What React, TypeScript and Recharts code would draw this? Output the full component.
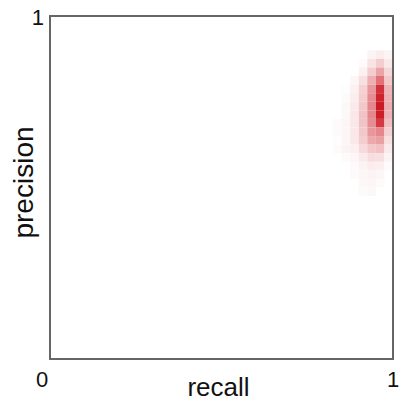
import { ScatterChart, Scatter, XAxis, YAxis, ReferenceArea, Label } from 'recharts';

// bin edges of the 2D histogram (only the non-empty part of the 40x40 grid)
const recallEdges = [0.825, 0.85, 0.875, 0.9, 0.925, 0.95, 0.975, 1];
const precisionEdges = [
  0.9, 0.875, 0.85, 0.825, 0.8, 0.775, 0.75, 0.725, 0.7, 0.675, 0.65, 0.625, 0.6,
  0.575, 0.55, 0.525, 0.5, 0.475,
];

// relative density, one row per precision bin (top to bottom), one value per recall bin
const density = [
  [0, 0, 0, 0, 0.05, 0.08, 0.05],
  [0, 0, 0, 0.02, 0.12, 0.22, 0.1],
  [0, 0, 0, 0.06, 0.22, 0.4, 0.18],
  [0, 0, 0.04, 0.14, 0.35, 0.62, 0.24],
  [0, 0.01, 0.06, 0.2, 0.45, 0.9, 0.32],
  [0, 0.02, 0.08, 0.22, 0.5, 0.96, 0.34],
  [0, 0.03, 0.09, 0.24, 0.52, 1.0, 0.36],
  [0, 0.03, 0.1, 0.26, 0.52, 0.98, 0.34],
  [0.02, 0.04, 0.1, 0.26, 0.5, 0.86, 0.28],
  [0.02, 0.04, 0.1, 0.24, 0.45, 0.52, 0.2],
  [0.01, 0.04, 0.1, 0.22, 0.38, 0.42, 0.14],
  [0.02, 0.05, 0.07, 0.16, 0.24, 0.27, 0.09],
  [0, 0.02, 0.04, 0.09, 0.15, 0.14, 0.05],
  [0, 0, 0.02, 0.05, 0.08, 0.07, 0.02],
  [0, 0, 0.02, 0.04, 0.05, 0.04, 0],
  [0, 0, 0, 0.03, 0.04, 0.02, 0],
  [0, 0, 0, 0.02, 0.03, 0, 0],
];

const xTicks = [0, 1];
const yTicks = [1];

const FONT = '"Liberation Sans", Arial, sans-serif';

function heatColor(v: number) {
  const r = Math.round(255 - (255 - 204) * v);
  const g = Math.round(255 - (255 - 26) * v);
  const b = Math.round(255 - (255 - 36) * v);
  return `rgb(${r},${g},${b})`;
}

function XTick({ x, y, payload }: any) {
  const dx = payload.value === 0 ? -8 : 0;
  return (
    <text x={x + dx} y={y + 28} textAnchor="middle" fontSize={22} fill="#111" fontFamily={FONT}>
      {payload.value}
    </text>
  );
}

function YTick({ x, y, payload }: any) {
  return (
    <text x={x - 6} y={y + 9} textAnchor="end" fontSize={22} fill="#111" fontFamily={FONT}>
      {payload.value}
    </text>
  );
}

const NoDot = () => <g />;

export default function App() {
  const cells: any[] = [];
  const centers: { x: number; y: number }[] = [];
  density.forEach((row, i) => {
    row.forEach((v, j) => {
      if (v <= 0) return;
      centers.push({
        x: (recallEdges[j] + recallEdges[j + 1]) / 2,
        y: (precisionEdges[i] + precisionEdges[i + 1]) / 2,
      });
      cells.push(
        <ReferenceArea
          key={`c-${i}-${j}`}
          x1={recallEdges[j]}
          x2={recallEdges[j + 1]}
          y1={precisionEdges[i + 1]}
          y2={precisionEdges[i]}
          fill={heatColor(v)}
          fillOpacity={1}
          stroke="none"
          ifOverflow="visible"
        />
      );
    });
  });

  return (
    <div style={{ position: 'absolute', left: 0, top: 0, width: 406, height: 406 }}>
      <ScatterChart width={406} height={406} margin={{ top: 16, right: 13, bottom: 0, left: 0 }}>
        <XAxis
          type="number"
          dataKey="x"
          domain={[0, 1]}
          allowDataOverflow
          ticks={xTicks}
          interval={0}
          axisLine={false}
          tickLine={false}
          tickSize={0}
          tickMargin={0}
          height={47}
          tick={<XTick />}
        >
          <Label
            content={({ viewBox }: any) => (
              <text
                x={viewBox.x + viewBox.width / 2 - 3}
                y={viewBox.y + viewBox.height - 10}
                textAnchor="middle"
                fontSize={26}
                fill="#111"
                fontFamily={FONT}
              >
                recall
              </text>
            )}
          />
        </XAxis>
        <YAxis
          type="number"
          dataKey="y"
          domain={[0, 1]}
          allowDataOverflow
          ticks={yTicks}
          interval={0}
          axisLine={false}
          tickLine={false}
          tickSize={0}
          tickMargin={0}
          width={50}
          tick={<YTick />}
        >
          <Label
            content={({ viewBox }: any) => {
              const cx = 33;
              const cy = viewBox.y + viewBox.height / 2 - 5;
              return (
                <text
                  x={cx}
                  y={cy}
                  transform={`rotate(-90 ${cx} ${cy})`}
                  textAnchor="middle"
                  fontSize={28}
                  fill="#111"
                  fontFamily={FONT}
                >
                  precision
                </text>
              );
            }}
          />
        </YAxis>
        <Scatter data={centers} shape={<NoDot />} isAnimationActive={false} />
        {cells}
        <ReferenceArea
          x1={0}
          x2={1}
          y1={0}
          y2={1}
          fill="none"
          stroke="#666"
          strokeWidth={2}
          ifOverflow="visible"
        />
      </ScatterChart>
    </div>
  );
}
